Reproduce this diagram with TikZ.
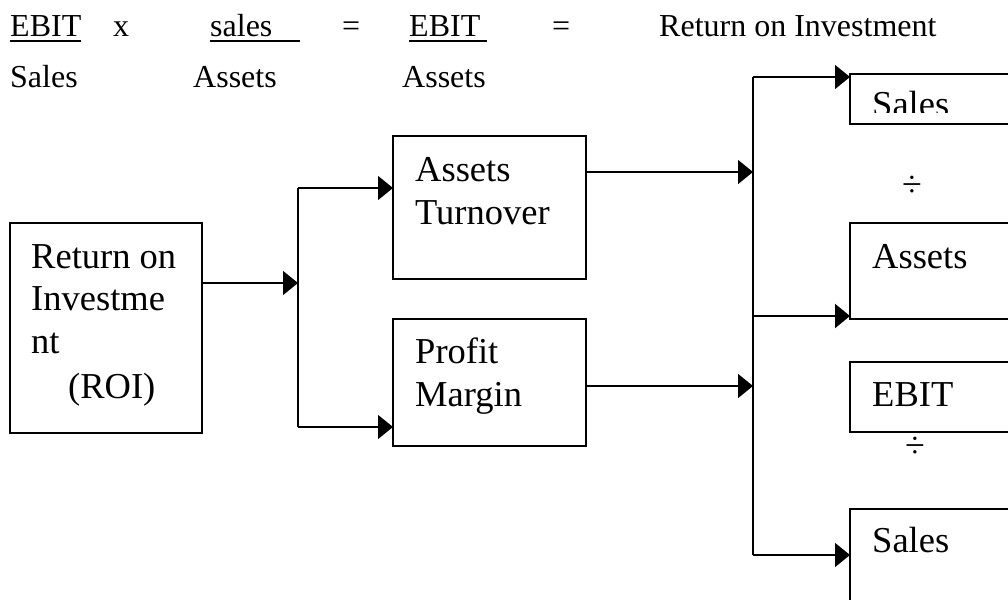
\documentclass[tikz,border=0pt]{standalone}
\usepackage{fontspec}
\setmainfont{Liberation Serif}
\usetikzlibrary{arrows.meta}
\begin{document}
\begin{tikzpicture}[x=1pt,y=-1pt,
  box/.style={draw,line width=1.3pt,rectangle,anchor=north west,inner sep=0pt,outer sep=0pt},
  btxt/.style={anchor=base west,inner sep=0pt,font=\fontsize{36.5}{43}\selectfont},
  ttxt/.style={anchor=base west,inner sep=0pt,font=\fontsize{32}{38}\selectfont},
  dtxt/.style={anchor=center,inner sep=0pt,font=\fontsize{36}{40}\selectfont},
  conn/.style={line width=1.3pt},
  arr/.style={line width=1.3pt,-{Triangle[length=15pt,width=24pt]}},
  uline/.style={line width=1.6pt}]
\clip (0,0) rectangle (1008,599);
\fill[white] (0,0) rectangle (1008,599);
% top formula
\node[ttxt] (f1) at (10,37) {EBIT};
\node[ttxt] (f2) at (113,37) {x};
\node[ttxt] (f3) at (210,37) {sales};
\node[ttxt] (f4) at (342,37) {=};
\node[ttxt] (f5) at (409,37) {EBIT};
\node[ttxt] (f6) at (552,37) {=};
\node[ttxt] (f7) at (659,37) {Return on Investment};
\node[ttxt] (g1) at (10,88) {Sales};
\node[ttxt] (g2) at (193,88) {Assets};
\node[ttxt] (g3) at (402,88) {Assets};
\draw[uline] (10,41) -- (81,41);
\draw[uline] (210,41) -- (300,41);
\draw[uline] (409,41) -- (487,41);
% boxes
\node[box,minimum width=192pt,minimum height=210pt] (roi) at (10,223) {};
\node[box,minimum width=193pt,minimum height=143pt] (at) at (393,136) {};
\node[box,minimum width=193pt,minimum height=127pt] (pm) at (393,319) {};
\node[box,minimum width=180pt,minimum height=50pt] (rs) at (850,74) {};
\node[box,minimum width=180pt,minimum height=96pt] (ra) at (850,223) {};
\node[box,minimum width=180pt,minimum height=70pt] (re) at (850,362) {};
\node[box,minimum width=180pt,minimum height=110pt] (rb) at (850,509) {};
% box texts
\node[btxt] (t1) at (31,268) {Return on};
\node[btxt] (t2) at (31,310) {Investme};
\node[btxt] (t3) at (31,353) {nt};
\node[btxt] (t4) at (68,398) {(ROI)};
\node[btxt] (t5) at (415,181) {Assets};
\node[btxt] (t6) at (415,224) {Turnover};
\node[btxt] (t7) at (415,363) {Profit};
\node[btxt] (t8) at (415,406) {Margin};
\begin{scope}
\clip (850,74) rectangle (1008,113);
\node[btxt] (t9) at (872,117) {Sales};
\end{scope}
\node[btxt] (t10) at (872,268) {Assets};
\node[btxt] (t11) at (872,406) {EBIT};
\node[btxt] (t12) at (872,552) {Sales};
\node[dtxt] (d1) at (912,186) {÷};
\node[dtxt] (d2) at (915,447) {÷};
% connectors
\coordinate (j1) at (298,283);
\coordinate (j1t) at (298,188);
\coordinate (j1b) at (298,427);
\draw[arr] (roi.east |- j1) -- (j1);
\draw[conn] (j1t) -- (j1b);
\draw[arr] (j1t) -- (at.west |- j1t);
\draw[arr] (j1b) -- (pm.west |- j1b);
\coordinate (j2a) at (753,172);
\coordinate (j2b) at (753,386);
\coordinate (j2t) at (753,77);
\coordinate (j2m) at (753,316);
\coordinate (j2e) at (753,555);
\draw[arr] (at.east |- j2a) -- (j2a);
\draw[arr] (pm.east |- j2b) -- (j2b);
\draw[conn] (j2t) -- (j2e);
\draw[arr] (j2t) -- (rs.west |- j2t);
\draw[arr,line width=2.2pt] (j2m) -- (ra.west |- j2m);
\draw[arr] (j2e) -- (rb.west |- j2e);
\end{tikzpicture}
\end{document}
